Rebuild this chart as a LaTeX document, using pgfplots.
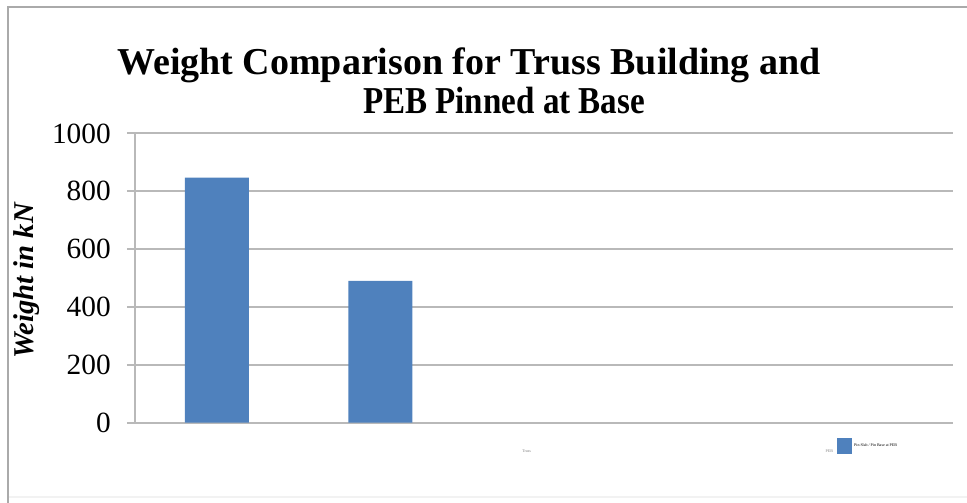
\documentclass[border=0pt]{standalone}
\usepackage{fontspec}
\setmainfont{Liberation Serif}
\usepackage{graphicx}
\usepackage{pgfplots}
\pgfplotsset{compat=1.18}
\definecolor{barblue}{RGB}{79,129,189}
\definecolor{gridgray}{RGB}{185,185,185}
\definecolor{framegray}{RGB}{170,170,170}
\begin{document}
\begin{tikzpicture}[x=1pt,y=1pt]
\useasboundingbox (0,0) rectangle (725.25,377.25);
% outer frame
\draw[framegray, line width=2.2pt] (6,-2) -- (6,372) -- (730,372);
\draw[gray!10, line width=1pt] (7,4.5) -- (730,4.5);
% title
\node[font=\fontsize{28.5}{30}\bfseries\selectfont] at (351.75,328.5) {Weight Comparison for Truss Building and};
\node[font=\fontsize{28.5}{30}\bfseries\selectfont] at (378,302) {\scalebox{0.87}[1]{PEB Pinned at Base}};
\begin{axis}[
  at={(101.25pt,60.2pt)}, anchor=south west,
  scale only axis, width=613.5pt, height=217pt,
  xmin=-0.5, xmax=4.5, ymin=0, ymax=1000,
  ytick={0,200,400,600,800,1000},
  xtick=\empty,
  ymajorgrids,
  grid style={gridgray, line width=1.4pt},
  axis line style={gridgray, line width=1.4pt},
  axis x line*=bottom,
  axis y line*=left,
  y axis line style={gridgray, line width=1.2pt},
  tick style={gridgray, line width=1.4pt},
  tick align=outside,
  major tick length=6pt,
  /pgf/number format/assume math mode=true,
  /pgf/number format/1000 sep={},
  yticklabel style={font=\fontsize{22}{24}\selectfont, anchor=east, inner sep=0pt, xshift=-12pt},
  ylabel={Weight in kN},
  every axis y label/.style={at={(rel axis cs:0,0.49)}, xshift=-81pt, rotate=90, anchor=center,
    font=\fontsize{21.5}{24}\bfseries\itshape\selectfont},
  legend style={draw=none, fill=none, at={(0.858,-0.08)}, anchor=west,
    font=\fontsize{3}{3.5}\selectfont, inner sep=0pt, outer sep=0pt},
  legend image code/.code={\fill[barblue] (0pt,-6pt) rectangle (11pt,6pt);},
]
\addplot[ybar, bar width=48pt, fill=barblue, draw=none] coordinates {(0,847) (1,490)};
\addlegendentry{Pin Slab / Pin Base at PEB}
\end{axis}
\node[font=\fontsize{3}{3.5}\selectfont, text=gray] at (622,38.5) {PEB};
\node[font=\fontsize{3}{3.5}\selectfont, text=gray] at (395,38.5) {Truss};
\end{tikzpicture}
\end{document}
